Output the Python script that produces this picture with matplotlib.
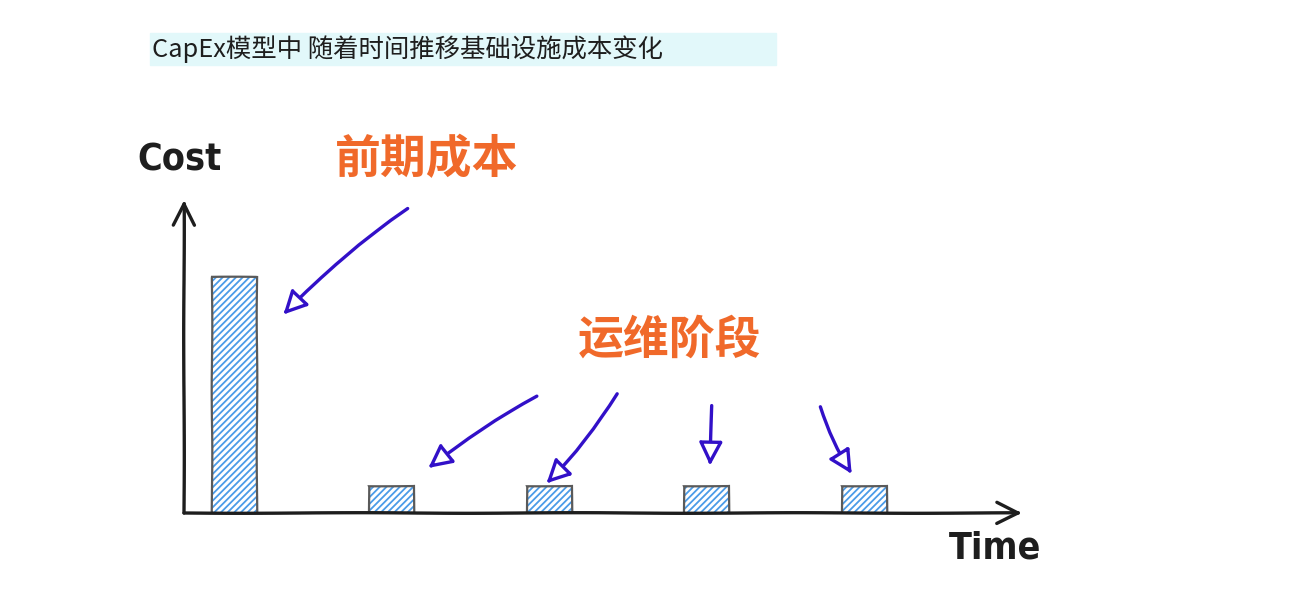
import matplotlib
matplotlib.use("Agg")
import matplotlib.pyplot as plt
from matplotlib.patches import Rectangle

# data
periods = [0, 1, 2, 3, 4]
costs = [100, 11.5, 11.5, 11.5, 11.5]
title = "CapEx模型中 随着时间推移基础设施成本变化"
upfront_label = "前期成本"
ops_label = "运维阶段"

# arrows: (tail x, tail y, tip x, tip y, curvature) in data units
arrows = [
    (1.10, 129.0, 0.31, 84.0, 0.05),
    (1.92, 49.5, 1.23, 19.0, 0.04),
    (2.43, 50.5, 1.98, 12.5, -0.06),
    (3.03, 45.5, 3.02, 20.0, 0.0),
    (3.72, 45.0, 3.92, 16.5, 0.06),
]

CJK = ["Noto Sans CJK SC", "DejaVu Sans"]
INK = "#1e1e1e"
PURPLE = "#3210c8"
ORANGE = "#f0692a"
HATCH = "#4a9be8"

plt.rcParams["hatch.linewidth"] = 1.3

fig = plt.figure(figsize=(12.99, 5.92), dpi=100)
fig.patch.set_facecolor("white")

# title band
fig.patches.append(Rectangle((150 / 1299, 1 - 65 / 592), 626 / 1299, 32 / 592,
                             transform=fig.transFigure, color="#e2f8fa", zorder=0))
fig.text(152 / 1299, 1 - 49 / 592, title, family=CJK, fontsize=18.3,
         color=INK, va="center", ha="left")

ax = fig.add_axes([184 / 1299, 79 / 592, 838 / 1299, 313 / 592])
ax.set_xlim(-0.32, 5.0)
ax.set_ylim(0, 132.6)
ax.axis("off")

# hatched fill, then sketchy grey outline
fill = ax.bar(periods, costs, width=0.286, color="none", edgecolor=HATCH,
              hatch="/////", linewidth=0, zorder=2)
outline = ax.bar(periods, costs, width=0.286, color="none", edgecolor="#5a5a5a",
                 linewidth=1.6, zorder=3)
for p in outline:
    p.set_sketch_params(0.3, 150, 2)

# axes arrows
for xy in [(0, 1.0), (1.0, 0)]:
    a = ax.annotate("", xy=xy, xytext=(0, 0), xycoords="axes fraction",
                    arrowprops=dict(arrowstyle="->,head_length=0.7,head_width=0.35",
                                    lw=2.4, color=INK, shrinkA=0, shrinkB=0,
                                    mutation_scale=22))
    a.arrow_patch.set_sketch_params(0.3, 250, 2)

hand = dict(family="DejaVu Sans", fontstretch="condensed", fontweight="bold",
            fontsize=27, color=INK, ha="center", va="center")
ax.text(-0.005, 1.125, "Cost", transform=ax.transAxes, **hand)
ax.text(0.968, -0.112, "Time", transform=ax.transAxes, **hand)

ax.text(1.222, 149.5, upfront_label, family=CJK, fontsize=33, fontweight="bold",
        color=ORANGE, ha="center", va="center", clip_on=False)
ax.text(2.765, 72.9, ops_label, family=CJK, fontsize=33, fontweight="bold",
        color=ORANGE, ha="center", va="center", clip_on=False)

for x0, y0, x1, y1, rad in arrows:
    a = ax.annotate("", xy=(x1, y1), xytext=(x0, y0),
                    arrowprops=dict(arrowstyle="-|>,head_length=0.9,head_width=0.45",
                                    lw=2.4, color=PURPLE, fc="white",
                                    connectionstyle=f"arc3,rad={rad}",
                                    shrinkA=0, shrinkB=0, mutation_scale=16),
                    annotation_clip=False)
    a.arrow_patch.set_sketch_params(0.2, 150, 2)

fig.savefig("out.png", dpi=100, facecolor="white")
